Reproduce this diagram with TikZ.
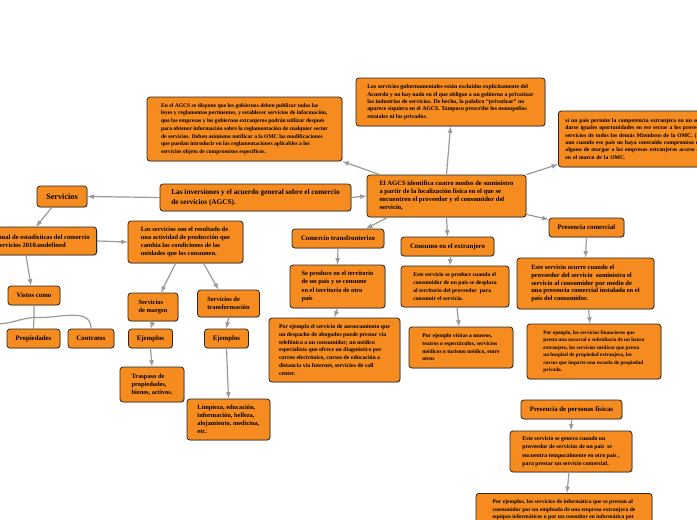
\documentclass[tikz,border=0pt]{standalone}
\usepackage{fontspec}
\setmainfont{Liberation Serif}
\usetikzlibrary{arrows, shadows}
\definecolor{orangekasten}{HTML}{F68B1F}
\definecolor{pfeilgrau}{HTML}{9A9A9A}

\begin{document}
\begin{tikzpicture}[x=1pt, y=-1pt,
				>=latex,   %Pfeilspitzen
				kasten/.style={draw=black!85, line width=0.8pt, fill=orangekasten, rounded corners=3pt,
					drop shadow={shadow xshift=0.7pt, shadow yshift=-0.7pt, opacity=0.45},
					align=left, inner xsep=7pt, inner ysep=3pt, text=black},
				klein/.style={font=\fontsize{5.6}{7.7}\selectfont\bfseries},
				mittel/.style={font=\fontsize{6.4}{8.2}\selectfont\bfseries},
				etikett/.style={font=\fontsize{6.8}{8}\selectfont\bfseries},
				pfeil/.style={->, draw=pfeilgrau, line width=1.2pt},
				linie/.style={draw=pfeilgrau, line width=1.2pt}]
				\useasboundingbox (0,0) rectangle (697,520);
				\clip (0,0) rectangle (697,520);
				% Kaesten oben
				\node[kasten, klein, minimum width=195pt, minimum height=64pt] (reg) at (244.5,129) {En el AGCS se dispone que los gobiernos deben publicar todas las\\ leyes y reglamentos pertinentes, y establecer servicios de información,\\ que las empresas y los gobiernos extranjeros podrán utilizar después\\ para obtener información sobre la reglamentación de cualquier sector\\ de servicios. Deben asimismo notificar a la OMC las modificaciones\\ que puedan introducir en las reglamentaciones aplicables a los\\ servicios objeto de compromisos específicos.};
				\node[kasten, font=\fontsize{5.8}{7.4}\selectfont\bfseries, minimum width=189pt, minimum height=48pt] (gub) at (450.5,102) {Los servicios gubernamentales están excluidos explícitamente del\\ Acuerdo y no hay nada en él que obligue a un gobierno a privatizar\\ las industrias de servicios. De hecho, la palabra “privatizar” no\\ aparece siquiera en el AGCS. Tampoco proscribe los monopolios\\ estatales ni los privados.};
				\node[kasten, font=\fontsize{5.7}{7.3}\selectfont\bfseries, text width=206pt, minimum height=56pt, anchor=west] (omc) at (558,139) {si un país permite la competencia extranjera en un sector, deben\\ darse iguales oportunidades en ese sector a los proveedores de\\ servicios de todos los demás Miembros de la OMC. (Esto se aplica\\ aun cuando ese país no haya contraído compromiso específico\\ alguno de otorgar a las empresas extranjeras acceso a su mercado\\ en el marco de la OMC.};
				% Hauptzeile
				\node[kasten, font=\fontsize{8.2}{9}\selectfont\bfseries, minimum width=50pt, minimum height=21pt, inner xsep=3pt] (serv) at (62,196.5) {Servicios};
				\node[kasten, font=\fontsize{7.3}{9.5}\selectfont\bfseries, minimum width=191pt, minimum height=27pt] (inv) at (255.5,197.5) {Las inversiones y el acuerdo general sobre el comercio\\ de servicios (AGCS).};
				\node[kasten, font=\fontsize{6.6}{8}\selectfont\bfseries, minimum width=159pt, minimum height=42pt] (modos) at (446.5,196) {El AGCS identifica cuatro modos de suministro\\ a partir de la localización física en el que se\\ encuentren el proveedor y el consumidor del\\ servicio,};
				% linke Seite
				\node[kasten, font=\fontsize{6.6}{8.4}\selectfont\bfseries, minimum height=28pt, anchor=east] (stat) at (97,241) {Manual de estadísticas del comercio\\ de servicios 2010.undefined};
				\node[kasten, mittel, minimum width=115pt, minimum height=42pt] (erg) at (185.5,242) {Los servicios son el resultado de\\ una actividad de producción que\\ cambia las condiciones de las\\ unidades que los consumen.};
				\node[kasten, etikett, minimum width=52pt, minimum height=19pt, inner xsep=3pt] (vist) at (34,295.5) {Vistos como};
				\node[kasten, etikett, minimum width=53pt, minimum height=19pt, inner xsep=3pt] (prop) at (33.5,338.5) {Propiedades};
				\node[kasten, etikett, minimum width=46pt, minimum height=19pt, inner xsep=3pt] (vert) at (91,338.5) {Contratos};
				\coordinate (links) at (-4,324);
				\node[kasten, mittel, minimum width=50pt, minimum height=28pt, inner xsep=4pt] (marg) at (153,307) {Servicios\\ de margen};
				\node[kasten, mittel, minimum width=62pt, minimum height=27pt, inner xsep=3pt] (umw) at (228.5,303.5) {Servicios de\\ transformación};
				\node[kasten, etikett, minimum width=44pt, minimum height=19pt, inner xsep=3pt] (bsp1) at (150.5,338.5) {Ejemplos};
				\node[kasten, etikett, minimum width=44pt, minimum height=19pt, inner xsep=3pt] (bsp2) at (226.5,338.5) {Ejemplos};
				\node[kasten, mittel, minimum width=64pt, minimum height=35pt, inner xsep=5pt] (trasp) at (152,384.5) {Traspaso de\\ propiedades,\\ bienes, activos.};
				\node[kasten, mittel, minimum width=83pt, minimum height=41pt, inner xsep=4pt] (limp) at (228.5,419.5) {Limpieza, educación,\\ información, belleza,\\ alojamiento, medicina,\\ etc.};
				% die vier Modi
				\node[kasten, etikett, minimum width=92pt, minimum height=19pt, inner xsep=4pt] (trans) at (338,238.5) {Comercio transfronterizo};
				\node[kasten, mittel, minimum width=95pt, minimum height=43pt] (grenz) at (337.5,286.5) {Se produce en el territorio\\ de un país y se consume\\ en el territorio de otro\\ país};
				\node[kasten, font=\fontsize{5.8}{7.7}\selectfont\bfseries, minimum width=131pt, minimum height=64pt] (grenzbsp) at (334.5,350) {Por ejemplo el servicio de asesoramiento que\\ un despacho de abogados puede prestar vía\\ telefónica a un consumidor; un médico\\ especialista que ofrece un diagnóstico por\\ correo electrónico, cursos de educación a\\ distancia vía Internet, servicios de call\\ center.};
				\node[kasten, etikett, minimum width=93pt, minimum height=19pt, inner xsep=4pt] (ausl) at (447.5,246.5) {Consumo en el extranjero};
				\node[kasten, font=\fontsize{5.7}{7.8}\selectfont\bfseries, minimum width=108pt, minimum height=41pt] (konsum) at (455,286.5) {Este servicio se produce cuando el\\ consumidor de un país se desplaza\\ al territorio del proveedor\ \ para\\ consumir el servicio.};
				\node[kasten, klein, minimum width=104pt, minimum height=41pt] (konsumbsp) at (461,347.5) {Por ejemplo visitas a museos,\\ teatros o espectáculos, servicios\\ médicos o turismo médico, entre\\ otros};
				\node[kasten, etikett, minimum width=75pt, minimum height=19pt, inner xsep=4pt] (praes) at (586.5,227.5) {Presencia comercial};
				\node[kasten, font=\fontsize{6.5}{7.7}\selectfont\bfseries, minimum width=137pt, minimum height=51pt] (praesbeschr) at (585.5,283.5) {Este servicio ocurre cuando el\\ proveedor del servicio\ \ suministra el\\ servicio al consumidor por medio de\\ una presencia comercial instalada en el\\ país del consumidor.};
				\node[kasten, font=\fontsize{5.2}{7.5}\selectfont\bfseries, minimum width=134pt, minimum height=55pt] (praesbsp) at (594,351.5) {Por ejemplo, los servicios financieros que\\ presta una sucursal o subsidiaria de un banco\\ extranjero, los servicios médicos que presta\\ un hospital de propiedad extranjera, los\\ cursos que imparte una escuela de propiedad\\ privada.};
				\node[kasten, etikett, minimum width=101pt, minimum height=19pt, inner xsep=4pt] (pers) at (571.5,409.5) {Presencia de personas físicas};
				\node[kasten, font=\fontsize{5.8}{8.2}\selectfont\bfseries, minimum width=122pt, minimum height=41pt] (persbeschr) at (571,451.5) {Este servicio se genera cuando un\\ proveedor de servicios de un país\ \ se\\ encuentra temporalmente en otro país ,\\ para prestar un servicio comercial.};
				\node[kasten, klein, minimum width=176pt, inner ysep=6pt, anchor=north] (persbsp) at (564,493) {Por ejemplos, los servicios de informática que se prestan al\\ consumidor por un empleado de una empresa extranjera de\\ equipos informáticos o por un consultor en informática por};
				% Pfeile
				\foreach \a/\b in {inv.west/serv.east, inv.east/modos.west, stat.east/erg.west,
						marg.south/bsp1.north, bsp1.south/trasp.north, umw.south/bsp2.north, bsp2.south/limp.north,
						modos.north/gub.south, modos.south/ausl.north, trans.south/grenz.north, grenz.south/grenzbsp.north,
						praes.south/praesbeschr.north, pers.south/persbeschr.north}
					\draw[pfeil] (\a) -- (\b);
				\draw[pfeil] ([xshift=-10pt]serv.south) -- ([xshift=-61pt]stat.north east);
				\draw[pfeil] ([xshift=-71pt]stat.south east) -- ([xshift=-3pt]vist.north);
				\draw[pfeil] ([xshift=-10pt]erg.south) -- ([xshift=8pt]marg.north);
				\draw[pfeil] ([xshift=18pt]erg.south) -- ([xshift=-10pt]umw.north);
				\draw[pfeil] ([xshift=13pt]modos.north west) -- (reg.south east);
				\draw[pfeil] (modos.north east) -- ([yshift=3pt]omc.south west);
				\draw[pfeil] ([xshift=21pt]modos.south west) -- ([xshift=28pt]trans.north);
				\draw[pfeil] ([yshift=3pt]modos.south east) -- ([yshift=8pt]praes.west);
				\draw[pfeil] ([xshift=3pt]ausl.south) -- ([xshift=-5pt]konsum.north);
				\draw[pfeil] ([xshift=2pt]konsum.south) -- ([xshift=-2pt]konsumbsp.north);
				\draw[pfeil] ([xshift=3pt]praesbeschr.south) -- ([xshift=-4pt]praesbsp.north);
				\draw[pfeil] ([xshift=-2pt]persbeschr.south) -- ([xshift=3pt]persbsp.north);
				% Verzweigung unter Vistos como
				\draw[linie] (vist.south) -- ++(0,12) coordinate (ast) -- (prop.north);
				\draw[linie] (ast) to[out=-5, in=90] (vert.north);
				\draw[linie] (ast) to[out=185, in=0] (links);
			\end{tikzpicture}
\end{document}
